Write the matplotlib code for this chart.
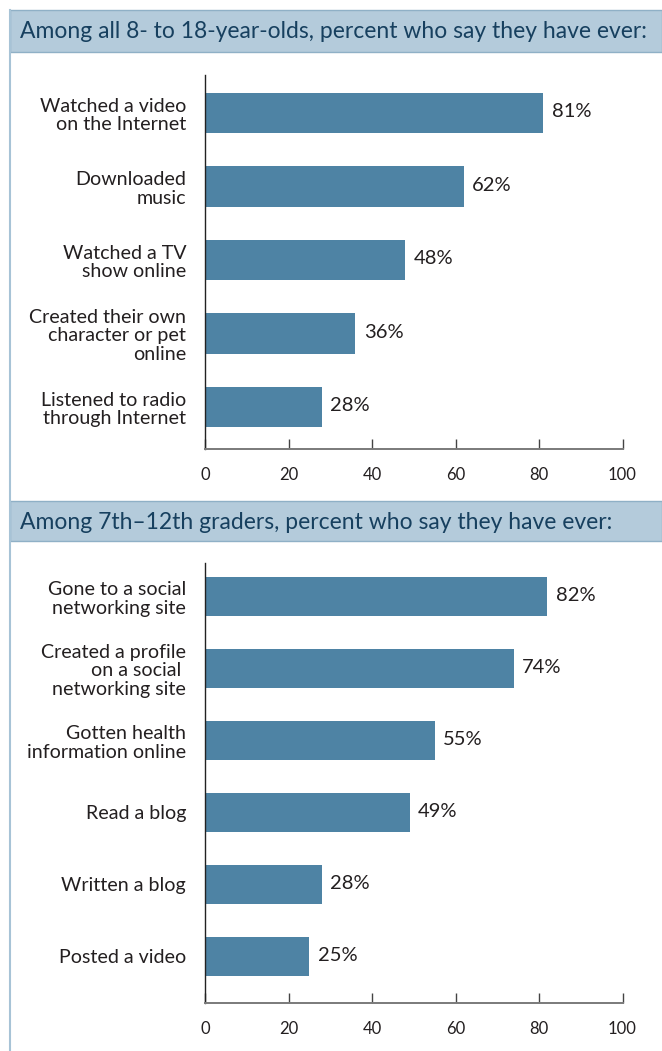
import matplotlib
matplotlib.use('Agg')
from matplotlib import pyplot as plt
from matplotlib.patches import Rectangle
from matplotlib.lines import Line2D
import numpy as np

# data
title_top = 'Among all 8- to 18-year-olds, percent who say they have ever:'
categories_top = ['Watched a video\non the Internet', 'Downloaded\nmusic', 'Watched a TV\nshow online',
                  'Created their own\ncharacter or pet\nonline', 'Listened to radio\nthrough Internet']
values_top = [81, 62, 48, 36, 28]

title_bottom = 'Among 7th\u201312th graders, percent who say they have ever:'
categories_bottom = ['Gone to a social\nnetworking site', 'Created a profile\non a social \nnetworking site',
                     'Gotten health\ninformation online', 'Read a blog', 'Written a blog', 'Posted a video']
values_bottom = [82, 74, 55, 49, 28, 25]

x_ticks = [0, 20, 40, 60, 80, 100]

bar_color = '#4e83a4'
band_color = '#b4cbdb'
band_edge = '#8fb0c6'
title_color = '#17405f'
text_color = '#231f20'
axis_gray = '#7a7a7a'

plt.rcParams['font.family'] = ['Lato', 'DejaVu Sans']

W, H = 662, 1051
fig = plt.figure(figsize=(W / 100, H / 100), dpi=100)
fig.patch.set_facecolor('white')


def px(x0, y0, x1, y1):
    # pixel box (top-left origin) -> figure fraction rect
    return [x0 / W, 1 - y1 / H, (x1 - x0) / W, (y1 - y0) / H]


# frame: left border line and header bands
fig.add_artist(Line2D([10 / W, 10 / W], [0, 1 - 10 / H], transform=fig.transFigure,
                      color='#a7c3d6', lw=1.5))
for (y0, y1), title in [((10, 52), title_top), ((501, 541), title_bottom)]:
    fig.add_artist(Rectangle((10 / W, 1 - y1 / H), (W - 10) / W, (y1 - y0) / H,
                             transform=fig.transFigure, facecolor=band_color,
                             edgecolor=band_edge, lw=1.0))
    fig.text(20 / W, 1 - ((y0 + y1) / 2 + 1) / H, title, color=title_color,
             fontsize=16.5, ha='left', va='center')


def panel(rect, cats, vals, top_pad, bottom_pad):
    ax = fig.add_axes(rect)
    pos = np.arange(len(cats))
    ax.barh(pos, vals, height=0.55, color=bar_color, zorder=2)
    ax.set_xlim(0, 100)
    ax.set_ylim(len(cats) - 1 + bottom_pad, -top_pad)
    ax.set_yticks(pos)
    ax.set_yticklabels(cats, ha='right', fontsize=14.1, color=text_color, linespacing=1.12)
    ax.set_xticks(x_ticks)
    ax.set_xticklabels([str(t) for t in x_ticks], fontsize=12, color=text_color)
    ax.tick_params(axis='y', length=0, pad=13.5)
    ax.tick_params(axis='x', direction='in', length=7.5, width=1.0, color='#444444', pad=13)
    for s in ['top', 'right']:
        ax.spines[s].set_visible(False)
    ax.spines['left'].set_color('#222222')
    ax.spines['left'].set_linewidth(1.0)
    ax.spines['bottom'].set_color(axis_gray)
    ax.spines['bottom'].set_linewidth(1.4)
    for p, v in zip(pos, vals):
        ax.annotate(f'{v}%', (v, p), xytext=(6, 1), textcoords='offset points',
                    ha='left', va='center', fontsize=14.5, color=text_color)
    return ax


panel(px(205, 75, 622.5, 449), categories_top, values_top, 0.517, 0.571)
panel(px(205, 563, 622.5, 1003), categories_bottom, values_bottom, 0.465, 0.646)

fig.savefig('out.png', dpi=100, facecolor='white')
